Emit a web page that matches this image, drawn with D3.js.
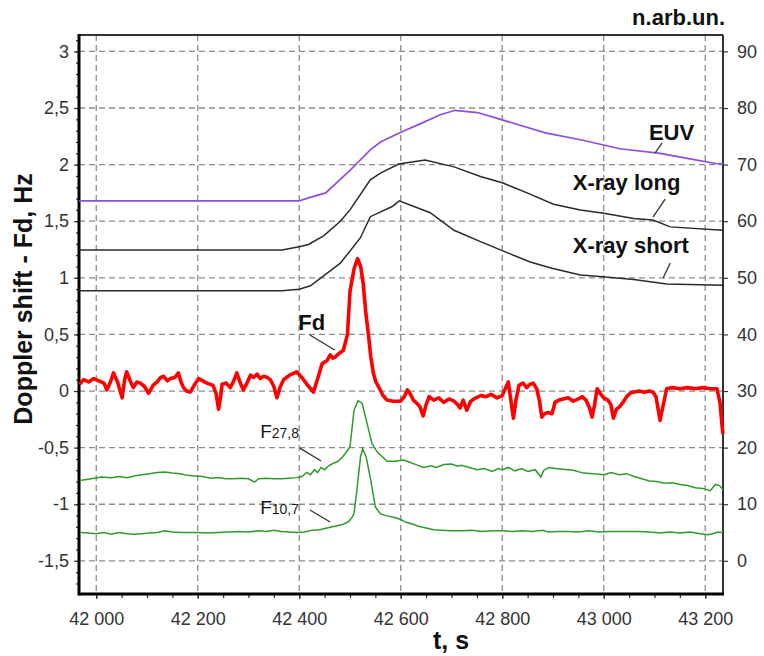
<!DOCTYPE html>
<html>
<head>
<meta charset="utf-8">
<title>Doppler shift and solar fluxes</title>
<script src="https://d3js.org/d3.v7.min.js"></script>
<style>
  body { margin: 0; background: #fff; }
  svg text { font-family: "Liberation Sans", Arial, sans-serif; }
</style>
</head>
<body>
<svg id="chart" width="764" height="656"></svg>
<script>
// ---- data (t in seconds) ----
var xTicks = [42000, 42200, 42400, 42600, 42800, 43000, 43200];
var yLeftTicks = [-1.5, -1, -0.5, 0, 0.5, 1, 1.5, 2, 2.5, 3];
var yRightTicks = [0, 10, 20, 30, 40, 50, 60, 70, 80, 90];

// Doppler shift Fd, Hz (left axis)
var fd = [
  [41967, 0.06], [41975, 0.1], [41985, 0.08], [41995, 0.11], [42005, 0.09], [42015, 0.07],
  [42021, 0.01], [42028, 0.08], [42034, 0.16], [42042, 0.08], [42051, -0.06], [42056, 0.1],
  [42060, 0.17], [42066, 0.1], [42073, 0.03], [42080, 0.08], [42087, 0.07], [42095, 0.04],
  [42103, -0.02], [42112, 0.05], [42120, 0.08], [42127, 0.12], [42133, 0.13], [42140, 0.09],
  [42146, 0.11], [42155, 0.12], [42162, 0.16], [42167, 0.08], [42172, 0.03], [42178, 0.0],
  [42185, -0.01], [42193, 0.05], [42202, 0.11], [42210, 0.09], [42218, 0.07], [42230, 0.05],
  [42236, -0.02], [42241, -0.16], [42245, -0.05], [42248, 0.06], [42256, 0.07], [42264, 0.03],
  [42270, 0.08], [42277, 0.16], [42283, 0.08], [42290, 0.01], [42297, 0.07], [42304, 0.14],
  [42310, 0.12], [42317, 0.15], [42323, 0.11], [42330, 0.13], [42337, 0.12], [42343, 0.1],
  [42350, 0.04], [42356, -0.06], [42362, 0.03], [42369, 0.1], [42378, 0.13], [42385, 0.15],
  [42395, 0.17], [42405, 0.12], [42415, 0.06], [42428, -0.01], [42437, 0.12], [42445, 0.24],
  [42455, 0.27], [42461, 0.32], [42466, 0.29], [42471, 0.3], [42478, 0.33], [42487, 0.36],
  [42495, 0.5], [42500, 0.88], [42508, 1.08], [42515, 1.17], [42521, 1.1], [42526, 0.95],
  [42531, 0.7], [42536, 0.51], [42541, 0.3], [42546, 0.16], [42551, 0.08], [42556, 0.04],
  [42565, -0.04], [42573, -0.08], [42585, -0.09], [42599, -0.09], [42607, -0.05], [42613, 0.01],
  [42618, -0.02], [42625, -0.08], [42632, -0.11], [42638, -0.14], [42644, -0.22], [42650, -0.12],
  [42656, -0.05], [42665, -0.08], [42675, -0.06], [42685, -0.1], [42695, -0.07], [42705, -0.09],
  [42712, -0.12], [42717, -0.15], [42723, -0.08], [42730, -0.17], [42738, -0.09], [42748, -0.06],
  [42758, -0.04], [42768, -0.05], [42778, -0.03], [42790, -0.06], [42800, -0.04], [42806, 0.02],
  [42812, 0.08], [42816, -0.05], [42822, -0.24], [42827, -0.08], [42833, 0.05], [42841, 0.07],
  [42848, 0.03], [42855, 0.06], [42861, 0.07], [42868, 0.02], [42873, -0.08], [42878, -0.23],
  [42884, -0.2], [42890, -0.19], [42898, -0.2], [42904, -0.1], [42912, -0.08], [42920, -0.07],
  [42930, -0.06], [42940, -0.09], [42950, -0.07], [42958, -0.05], [42965, -0.08], [42972, -0.15],
  [42977, -0.23], [42982, -0.12], [42987, 0.02], [42993, -0.02], [43000, -0.06], [43008, -0.08],
  [43014, -0.12], [43019, -0.24], [43025, -0.16], [43031, -0.14], [43038, -0.1], [43045, -0.05],
  [43052, -0.02], [43058, -0.01], [43070, 0.0], [43080, -0.01], [43090, 0.0], [43097, -0.01],
  [43103, -0.05], [43108, -0.18], [43111, -0.26], [43116, -0.15], [43124, 0.02], [43135, 0.03],
  [43150, 0.02], [43165, 0.03], [43180, 0.02], [43195, 0.03], [43210, 0.02], [43223, 0.02],
  [43229, -0.1], [43233, -0.3], [43235, -0.38]
];

// EUV, n.arb.un. (right axis)
var euv = [
  [41966, 63.6], [42400, 63.6], [42425, 64.3], [42452, 65.0], [42500, 69.0], [42540, 72.6],
  [42560, 74.0], [42597, 75.6], [42638, 77.2], [42678, 78.8], [42707, 79.6], [42751, 79.2],
  [42782, 78.4], [42822, 77.3], [42885, 75.6], [42954, 74.4], [43032, 72.8], [43111, 72.0],
  [43170, 71.0], [43220, 70.2], [43235, 70.1]
];

// X-ray long, n.arb.un. (right axis)
var xrayLong = [
  [41966, 54.9], [42366, 54.9], [42400, 55.5], [42418, 55.9], [42448, 57.4], [42481, 60.0],
  [42500, 62.0], [42540, 67.3], [42560, 68.5], [42596, 70.1], [42648, 70.8], [42705, 69.6],
  [42757, 67.9], [42800, 66.8], [42849, 65.0], [42901, 63.0], [42954, 62.0], [43000, 61.4],
  [43059, 60.5], [43097, 60.2], [43131, 59.0], [43235, 58.4]
];

// X-ray short, n.arb.un. (right axis)
var xrayShort = [
  [41966, 47.7], [42366, 47.7], [42400, 48.0], [42422, 48.6], [42481, 52.6], [42520, 57.0],
  [42540, 60.8], [42583, 62.6], [42597, 63.6], [42658, 61.5], [42705, 58.4], [42757, 56.4],
  [42800, 54.8], [42855, 52.8], [42898, 51.7], [42954, 50.5], [42998, 50.2], [43059, 49.7],
  [43124, 48.9], [43235, 48.7]
];

// F27.8, n.arb.un. (right axis)
var f278 = [
  [41968, 14.2], [41990, 14.5], [42010, 14.8], [42030, 14.7], [42045, 14.9], [42060, 14.7],
  [42075, 15.0], [42090, 15.2], [42105, 15.4], [42120, 15.6], [42135, 15.7], [42150, 15.5],
  [42165, 15.4], [42180, 15.1], [42195, 15.0], [42210, 14.9], [42225, 14.6], [42240, 14.7],
  [42255, 14.5], [42270, 14.5], [42285, 14.6], [42300, 14.5], [42312, 13.9], [42320, 14.5],
  [42335, 14.6], [42350, 14.5], [42365, 14.5], [42380, 14.6], [42395, 14.7], [42405, 14.9],
  [42415, 15.6], [42422, 15.2], [42430, 16.1], [42436, 15.6], [42443, 16.5], [42450, 16.1],
  [42458, 16.8], [42466, 17.2], [42475, 17.5], [42485, 18.3], [42495, 19.5], [42500, 20.2],
  [42508, 26.6], [42516, 28.3], [42524, 27.8], [42532, 24.9], [42543, 20.8], [42553, 19.3],
  [42573, 17.6], [42590, 17.6], [42605, 17.8], [42615, 17.5], [42630, 17.0], [42645, 16.5],
  [42660, 16.8], [42670, 16.5], [42685, 17.0], [42700, 17.1], [42712, 16.7], [42720, 16.9],
  [42735, 16.5], [42750, 16.1], [42765, 16.3], [42780, 15.8], [42792, 16.3], [42800, 16.1],
  [42812, 16.5], [42825, 15.9], [42838, 16.3], [42850, 15.8], [42865, 16.1], [42876, 14.8],
  [42882, 16.0], [42892, 16.5], [42905, 16.3], [42920, 16.2], [42940, 16.0], [42960, 15.5],
  [42980, 15.4], [43000, 15.2], [43015, 15.6], [43030, 15.2], [43045, 15.4], [43060, 14.9],
  [43075, 14.5], [43090, 14.1], [43105, 14.0], [43120, 13.7], [43135, 13.8], [43150, 13.5],
  [43165, 13.3], [43180, 12.9], [43195, 12.8], [43210, 12.4], [43220, 13.5], [43228, 13.3],
  [43235, 12.6]
];

// F10.7, n.arb.un. (right axis)
var f107 = [
  [41968, 5.0], [41985, 4.9], [42000, 4.8], [42015, 5.0], [42030, 4.7], [42045, 5.0],
  [42060, 4.8], [42075, 4.7], [42090, 4.8], [42105, 4.9], [42120, 5.0], [42135, 5.3],
  [42150, 5.1], [42165, 5.0], [42180, 5.0], [42200, 5.0], [42220, 4.9], [42240, 5.0],
  [42260, 5.1], [42280, 5.2], [42300, 5.1], [42320, 5.3], [42335, 5.2], [42350, 5.4],
  [42365, 5.2], [42380, 5.1], [42395, 5.0], [42410, 5.1], [42425, 5.4], [42440, 5.5],
  [42455, 5.8], [42470, 6.1], [42485, 6.4], [42497, 6.9], [42505, 7.8], [42508, 8.4],
  [42513, 12.0], [42517, 15.4], [42521, 18.5], [42525, 19.8], [42532, 18.3], [42541, 14.2],
  [42550, 9.5], [42560, 8.3], [42575, 7.9], [42590, 7.6], [42600, 7.3], [42610, 6.8],
  [42620, 6.6], [42635, 6.1], [42650, 5.8], [42665, 5.5], [42680, 5.4], [42700, 5.3],
  [42720, 5.3], [42740, 5.4], [42760, 5.2], [42780, 5.3], [42800, 5.3], [42820, 5.2],
  [42840, 5.3], [42860, 5.2], [42880, 5.4], [42890, 5.1], [42910, 5.2], [42930, 5.2],
  [42950, 5.1], [42970, 5.3], [42990, 5.1], [43010, 5.2], [43030, 5.2], [43050, 5.2],
  [43070, 5.2], [43090, 5.1], [43110, 4.9], [43130, 5.1], [43150, 4.9], [43170, 5.1],
  [43190, 4.8], [43205, 4.6], [43215, 4.8], [43225, 5.1], [43235, 5.0]
];

// labels: [text, sub, t, Hz value], leaders: [t1, v1, t2, v2] in left-axis units
var seriesLabels = [
  ["EUV", "", 43089, 2.217],
  ["X-ray long", "", 42939, 1.776],
  ["X-ray short", "", 42939, 1.219],
  ["Fd", "", 42398, 0.539]
];
var fluxLabels = [
  ["F", "27,8", 42323, -0.415],
  ["F", "10,7", 42323, -1.087]
];
var leaders = [
  [43101, 2.102, 43115, 2.191],
  [43097, 1.537, 43121, 1.696],
  [43117, 0.998, 43131, 1.131],
  [42421, 0.495, 42470, 0.362],
  [42401, -0.504, 42443, -0.618],
  [42421, -1.051, 42461, -1.157]
];

// ---- layout ----
var margin = { top: 35, right: 41, bottom: 62, left: 79 };
var width = 764 - margin.left - margin.right;
var height = 656 - margin.top - margin.bottom;

var svg = d3.select("#chart")
  .append("g")
  .attr("transform", "translate(" + margin.left + "," + margin.top + ")");

var x = d3.scaleLinear().domain([41966, 43235]).range([0, width]);
var yL = d3.scaleLinear().domain([-1.793, 3.145]).range([height, 0]);
var yR = d3.scaleLinear().domain([-5.86, 92.9]).range([height, 0]);

var commaNum = function(v) { return String(v).replace(".", ","); };
var spaceThousands = function(v) { return d3.format(",")(v).replace(",", " "); };

// grid
svg.selectAll(".vgrid").data(xTicks).enter().append("line")
  .attr("x1", function(d) { return x(d); }).attr("x2", function(d) { return x(d); })
  .attr("y1", 0).attr("y2", height)
  .attr("stroke", "#8c8c8c").attr("stroke-width", 1.3).attr("stroke-dasharray", "6,4");
svg.selectAll(".hgrid").data(yLeftTicks).enter().append("line")
  .attr("x1", 0).attr("x2", width)
  .attr("y1", function(d) { return yL(d); }).attr("y2", function(d) { return yL(d); })
  .attr("stroke", "#8c8c8c").attr("stroke-width", 1.3).attr("stroke-dasharray", "6,4");

// axes
function styleAxis(g) {
  g.select(".domain").remove();
  g.selectAll("line").attr("stroke", "#333").attr("stroke-width", 1.2);
  g.selectAll("text").attr("font-size", 18).attr("fill", "#333")
    .attr("font-family", "'Liberation Sans', Arial, sans-serif");
}

svg.append("g").attr("transform", "translate(0," + height + ")")
  .call(d3.axisBottom(x).tickValues(d3.range(42000, 43236, 50)).tickSize(4).tickFormat(""))
  .call(styleAxis);
svg.append("g").attr("transform", "translate(0," + height + ")")
  .call(d3.axisBottom(x).tickValues(xTicks).tickSize(5).tickPadding(13).tickFormat(spaceThousands))
  .call(styleAxis);

svg.append("g")
  .call(d3.axisLeft(yL).tickValues(d3.range(-17, 32).map(function(d) { return d / 10; })).tickSize(3).tickFormat(""))
  .call(styleAxis);
svg.append("g")
  .call(d3.axisLeft(yL).tickValues(yLeftTicks).tickSizeInner(5).tickSizeOuter(0).tickPadding(5).tickFormat(commaNum))
  .call(styleAxis);

svg.append("g").attr("transform", "translate(" + width + ",0)")
  .call(d3.axisRight(yR).tickValues(yRightTicks).tickSize(5).tickPadding(9))
  .call(styleAxis);

// frame
svg.append("line").attr("x1", 0).attr("x2", width).attr("y1", 0).attr("y2", 0)
  .attr("stroke", "#333").attr("stroke-width", 2);
svg.append("line").attr("x1", width).attr("x2", width).attr("y1", 0).attr("y2", height)
  .attr("stroke", "#333").attr("stroke-width", 2);
svg.append("line").attr("x1", 0).attr("x2", 0).attr("y1", -1).attr("y2", height + 1.5)
  .attr("stroke", "#000").attr("stroke-width", 3);
svg.append("line").attr("x1", 0).attr("x2", width + 1).attr("y1", height).attr("y2", height)
  .attr("stroke", "#000").attr("stroke-width", 3);

// lines
var lineL = d3.line().x(function(d) { return x(d[0]); }).y(function(d) { return yL(d[1]); });
var lineR = d3.line().x(function(d) { return x(d[0]); }).y(function(d) { return yR(d[1]); });

var plot = svg.append("g");
plot.append("path").datum(f107).attr("d", lineR).attr("fill", "none")
  .attr("stroke", "#2f9a2f").attr("stroke-width", 1.5);
plot.append("path").datum(f278).attr("d", lineR).attr("fill", "none")
  .attr("stroke", "#2f9a2f").attr("stroke-width", 1.5);
plot.append("path").datum(xrayShort).attr("d", lineR).attr("fill", "none")
  .attr("stroke", "#2a2a2a").attr("stroke-width", 1.5);
plot.append("path").datum(xrayLong).attr("d", lineR).attr("fill", "none")
  .attr("stroke", "#2a2a2a").attr("stroke-width", 1.5);
plot.append("path").datum(euv).attr("d", lineR).attr("fill", "none")
  .attr("stroke", "#8c4fe0").attr("stroke-width", 1.7);
plot.append("path").datum(fd).attr("d", lineL).attr("fill", "none")
  .attr("stroke", "#ff0000").attr("stroke-width", 3.6).attr("stroke-linejoin", "round");

// annotations
svg.selectAll(".leader").data(leaders).enter().append("line")
  .attr("x1", function(d) { return x(d[0]); }).attr("y1", function(d) { return yL(d[1]); })
  .attr("x2", function(d) { return x(d[2]); }).attr("y2", function(d) { return yL(d[3]); })
  .attr("stroke", "#333").attr("stroke-width", 1.3);

svg.selectAll(".slabel").data(seriesLabels).enter().append("text")
  .attr("x", function(d) { return x(d[2]); }).attr("y", function(d) { return yL(d[3]); })
  .attr("font-size", 22).attr("font-weight", "bold").attr("fill", "#111")
  .text(function(d) { return d[0]; });

var fl = svg.selectAll(".flabel").data(fluxLabels).enter().append("text")
  .attr("x", function(d) { return x(d[2]); }).attr("y", function(d) { return yL(d[3]); })
  .attr("fill", "#1a1a1a");
fl.append("tspan").attr("font-size", 19).text(function(d) { return d[0]; });
fl.append("tspan").attr("font-size", 14).text(function(d) { return d[1]; });

// axis titles
svg.append("text")
  .attr("transform", "translate(" + (32 - margin.left) + "," + (299 - margin.top) + ") rotate(-90)")
  .attr("text-anchor", "middle").attr("font-size", 25).attr("font-weight", "bold").attr("fill", "#111")
  .text("Doppler shift - Fd, Hz");
svg.append("text")
  .attr("x", 451 - margin.left).attr("y", 649 - margin.top)
  .attr("text-anchor", "middle").attr("font-size", 25).attr("font-weight", "bold").attr("fill", "#111")
  .text("t, s");
svg.append("text")
  .attr("x", width + 2).attr("y", 25 - margin.top)
  .attr("text-anchor", "end").attr("font-size", 22).attr("font-weight", "bold").attr("fill", "#111")
  .text("n.arb.un.");
</script>
</body>
</html>
